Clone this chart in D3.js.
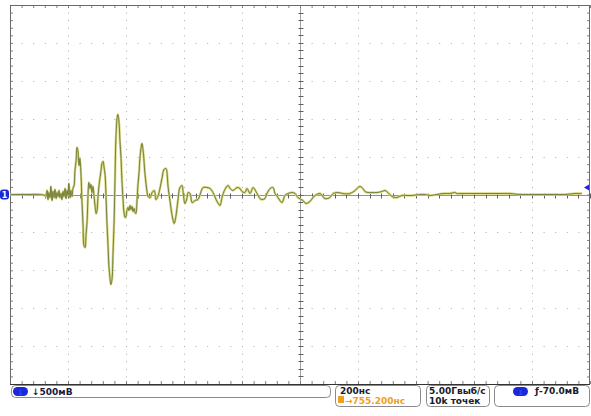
<!DOCTYPE html>
<html>
<head>
<meta charset="utf-8">
<script src="https://cdn.jsdelivr.net/npm/d3@7"></script>
<style>
  body { margin: 0; background: #fff; }
  svg { display: block; }
  text { font-family: "DejaVu Sans", "Liberation Sans", sans-serif; }
</style>
</head>
<body>
<script>
// waveform samples: time from left edge (ns), level (mV)
const timeNs = [0, 52, 103, 121, 124, 128, 131, 134, 138, 141, 145, 148, 152, 155, 159, 162, 166, 169, 172,
  176, 179, 183, 186, 190, 193, 197, 200, 203, 207, 210, 214, 217, 221, 224, 228, 231, 234, 238, 241,
  245, 248, 252, 255, 259, 262, 266, 269, 272, 276, 279, 283, 286, 290, 293, 297, 300, 303, 307, 310,
  314, 317, 321, 324, 328, 331, 334, 338, 341, 345, 348, 352, 355, 359, 362, 365, 369, 372, 376, 379,
  383, 386, 390, 393, 397, 400, 403, 407, 410, 414, 417, 421, 424, 428, 431, 434, 438, 441, 445, 448,
  452, 455, 459, 462, 465, 469, 472, 476, 483, 490, 497, 500, 503, 510, 517, 524, 531, 538, 541, 545,
  552, 559, 566, 572, 579, 586, 593, 597, 603, 610, 614, 621, 628, 638, 648, 666, 679, 690, 700, 714,
  724, 731, 741, 752, 759, 769, 783, 793, 800, 810, 817, 828, 838, 852, 862, 869, 879, 886, 897, 907,
  914, 924, 938, 948, 959, 972, 983, 993, 1010, 1021, 1034, 1045, 1052, 1069, 1086, 1103, 1114, 1131,
  1148, 1172, 1190, 1200, 1207, 1217, 1224, 1234, 1248, 1266, 1283, 1293, 1303, 1317, 1328, 1334, 1352,
  1369, 1386, 1414, 1431, 1448, 1472, 1493, 1517, 1534, 1541, 1552, 1586, 1621, 1655, 1690, 1724, 1759,
  1769, 1810, 1845, 1879, 1914, 1948, 1972, 2000];
const signalMv = [0, 0, 0, -13, -26, 53, -66, 26, -40, 106, -79, 40, -40, 66, -53, 26, -26, 53, -40,
  13, -66, 40, -26, 79, -53, 53, -13, 145, -40, 53, -26, 79, 119, 317, 448, 620, 580, 383, 475,
  251, -79, -409, -673, -699, -541, -343, -13, 158, 79, 132, 26, 106, -26, -145, -251, -211, -53, 119, 211,
  317, 409, 435, 369, 251, -13, -343, -673, -937, -1108, -1187, -1108, -805, -343, 185, 712, 1002, 1055, 950, 712,
  475, 185, -79, -237, -303, -290, -211, -171, -211, -145, -198, -158, -224, -185, -237, -251, -79, 119, 290,
  475, 620, 673, 580, 448, 290, 145, 53, -26, -40, 26, 53, 26, -66, -26, 79, 211, 330, 343, 303,
  106, -92, -277, -383, -290, -79, 92, 119, 26, -119, -53, 26, 13, -106, -79, -66, 92, 92, 79, 26,
  -92, -145, -40, 66, 119, 79, 53, 92, 79, 40, 26, 79, 13, 92, 13, -53, -66, -53, 13, 79,
  92, 13, -40, -106, -13, 13, 26, 13, -40, -79, -119, -92, -40, -13, 13, -53, -40, 13,
  26, 13, 13, 53, 92, 106, 79, 40, 26, 26, 26, 40, 53, 26, -26, -40, -40,
  -13, -13, -13, 0, 0, -13, 0, 13, 13, 26, 13, 13, 13, 13, 13, 13, 13,
  0, 0, 0, 0, 0, 0, 13, 13];

// readout texts
const channelLabel = "1";
const voltsPerDiv = "↓500мВ";
const timePerDiv = "200нс";
const triggerDelay = "→755.200нс";
const sampleRate = "5.00Гвыб/с";
const recordLength = "10k точек";
const triggerLevel = "ƒ-70.0мВ";

const W = 591, H = 416;
const plot = {left: 10, right: 590, top: 5, bottom: 384};
const divX = 10, divY = 10;

const data = timeNs.map((t, i) => ({t: t, v: signalMv[i]}));

const x = d3.scaleLinear().domain([0, 2000]).range([plot.left, plot.right]);
const y = d3.scaleLinear().domain([-2500, 2500]).range([plot.bottom, plot.top]);

const svg = d3.select('body').append('svg')
    .attr('width', W)
    .attr('height', H);

const majorT = d3.range(0, 2001, 2000 / divX);
const majorV = d3.range(-2500, 2501, 5000 / divY);
const minorT = d3.range(0, 2001, 2000 / divX / 5);
const minorV = d3.range(-2500, 2501, 5000 / divY / 5);

// dotted graticule
const grid = svg.append('g');
grid.selectAll('.gx').data(majorT.slice(1, -1).filter(d => d !== 1000)).enter()
    .append('line')
    .attr('x1', d => x(d) + 0.5).attr('x2', d => x(d) + 0.5)
    .attr('y1', plot.top).attr('y2', plot.bottom)
    .attr('stroke', '#aaaaaa')
    .attr('stroke-dasharray', '1,' + ((y(0) - y(100)) - 1));
grid.selectAll('.gy').data(majorV.slice(1, -1).filter(d => d !== 0)).enter()
    .append('line')
    .attr('y1', d => Math.round(y(d)) + 0.5).attr('y2', d => Math.round(y(d)) + 0.5)
    .attr('x1', plot.left).attr('x2', plot.right)
    .attr('stroke', '#aaaaaa')
    .attr('stroke-dasharray', '1,' + ((x(40) - x(0)) - 1));

// center cross with minor ticks
const cx = Math.round(x(1000)) + 0.5, cy = Math.round(y(0)) + 0.5;
grid.append('line').attr('x1', cx).attr('x2', cx).attr('y1', plot.top).attr('y2', plot.bottom)
    .attr('stroke', '#a0a0a0');
grid.append('line').attr('y1', cy).attr('y2', cy).attr('x1', plot.left).attr('x2', plot.right)
    .attr('stroke', '#909090');
grid.selectAll('.tcx').data(minorV).enter().append('line')
    .attr('x1', cx - 2).attr('x2', cx + 3)
    .attr('y1', d => Math.round(y(d)) + 0.5).attr('y2', d => Math.round(y(d)) + 0.5)
    .attr('stroke', '#606060');
grid.selectAll('.tcy').data(minorT).enter().append('line')
    .attr('y1', cy - 2).attr('y2', cy + 3)
    .attr('x1', d => Math.round(x(d)) + 0.5).attr('x2', d => Math.round(x(d)) + 0.5)
    .attr('stroke', '#606060');

// border ticks through d3 axes
function edge(axis, tx, ty) {
    const g = svg.append('g').attr('transform', 'translate(' + tx + ',' + ty + ')').call(axis);
    g.select('.domain').remove();
    g.selectAll('text').remove();
    g.selectAll('line').attr('stroke', '#808080');
}
edge(d3.axisBottom(x).tickValues(minorT).tickSize(3), 0, plot.top);
edge(d3.axisTop(x).tickValues(minorT).tickSize(3), 0, plot.bottom);
edge(d3.axisRight(y).tickValues(minorV).tickSize(3), plot.left, 0);
edge(d3.axisLeft(y).tickValues(minorV).tickSize(3), plot.right, 0);

svg.append('rect')
    .attr('x', plot.left + 0.5).attr('y', plot.top + 0.5)
    .attr('width', plot.right - plot.left - 1).attr('height', plot.bottom - plot.top)
    .attr('fill', 'none').attr('stroke', '#6a6a6a');
svg.append('line').attr('x1', plot.left).attr('x2', plot.right)
    .attr('y1', plot.bottom + 0.5).attr('y2', plot.bottom + 0.5)
    .attr('stroke', '#333');

// waveform: pale halo with a thin dark core
const line = d3.line().x(d => x(d.t)).y(d => y(d.v)).curve(d3.curveCatmullRom.alpha(0.5));
svg.append('path').datum(data)
    .attr('d', line)
    .attr('fill', 'none')
    .attr('stroke', '#d6d67c')
    .attr('stroke-width', 2.4)
    .attr('stroke-linejoin', 'round');
svg.append('path').datum(data)
    .attr('d', line)
    .attr('fill', 'none')
    .attr('stroke', '#4f5c22')
    .attr('stroke-width', 0.7)
    .attr('stroke-linejoin', 'round');

// channel marker on the left, trigger level marker on the right
svg.append('rect').attr('x', 0).attr('y', y(0) - 5).attr('width', 9).attr('height', 10)
    .attr('rx', 3).attr('fill', '#1c28d8');
svg.append('text').attr('x', 4.5).attr('y', y(0) + 3.5).attr('text-anchor', 'middle')
    .attr('fill', '#fff').attr('font-size', 8).attr('font-weight', 'bold').text(channelLabel);
svg.append('path')
    .attr('d', 'M' + (plot.right - 6) + ',' + (y(0) - 7) + 'l5,-3v6z')
    .attr('fill', '#1c28d8');

// readout boxes
const info = svg.append('g');
function box(x0, y0, w, h) {
    info.append('rect').attr('x', x0 + 0.5).attr('y', y0 + 0.5).attr('width', w).attr('height', h)
        .attr('rx', 4).attr('fill', '#fff').attr('stroke', '#8a8a8a');
}
function pill(x0, y0) {
    info.append('rect').attr('x', x0).attr('y', y0).attr('width', 15).attr('height', 9)
        .attr('rx', 4.5).attr('fill', '#1c28d8');
    info.append('text').attr('x', x0 + 7.5).attr('y', y0 + 7.5).attr('text-anchor', 'middle')
        .attr('fill', '#3040ff').attr('font-size', 7).attr('font-weight', 'bold').text(channelLabel);
}
function label(tx, ty, str, col) {
    info.append('text').attr('x', tx).attr('y', ty).attr('font-size', 9).attr('font-weight', 'bold')
        .attr('fill', col || '#1a1a2a').text(str);
}
box(11, 385, 319, 12);
pill(13, 387);
label(32, 395, voltsPerDiv, '#1a1a40');

box(335, 385, 85, 21);
label(340, 394, timePerDiv);
info.append('rect').attr('x', 338).attr('y', 396).attr('width', 6).attr('height', 7).attr('fill', '#f0a020');
label(345, 404, triggerDelay, '#f0a020');

box(426, 385, 63, 21);
label(429, 394, sampleRate);
label(429, 404, recordLength);

box(494, 385, 95, 21);
pill(513, 387);
label(535, 394, triggerLevel);
</script>
</body>
</html>
